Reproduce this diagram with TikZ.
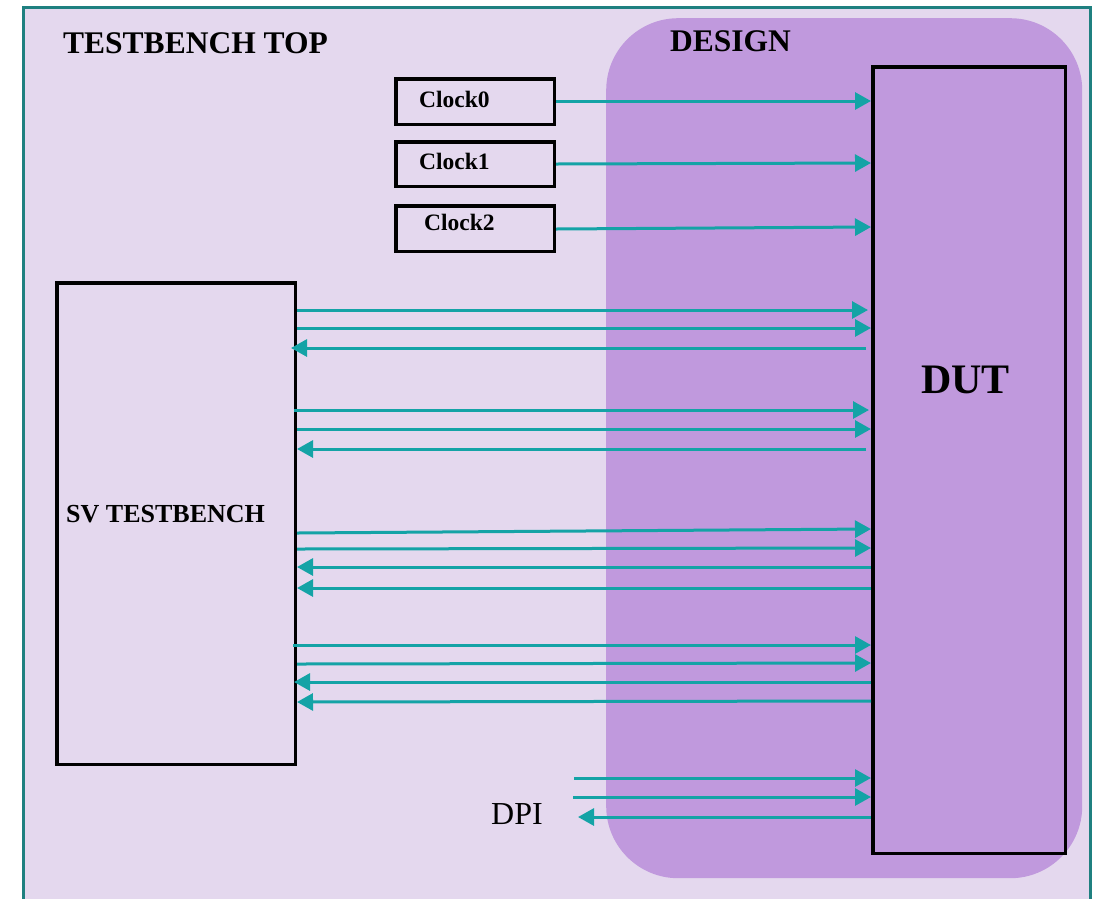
\documentclass[tikz,border=0pt]{standalone}
\usepackage{fontspec}
\setmainfont{Liberation Serif}
\usetikzlibrary{arrows.meta}
\definecolor{tbbg}{HTML}{E4D8EE}
\definecolor{dsgnfill}{HTML}{C099DD}
\definecolor{sigline}{HTML}{14A3A6}
\definecolor{frameline}{HTML}{1F8080}

\begin{document}
\begin{tikzpicture}[x=1pt,y=-1pt,
  blockbox/.style={draw=black, line width=3.5pt, inner sep=0pt, anchor=north west},
  sigarrow/.style={draw=sigline, line width=3pt,
    -{Triangle[length=16pt,width=17pt]}},
  title/.style={font=\bfseries\fontsize{31.5}{36}\selectfont, anchor=base west, inner sep=0pt},
  clocktext/.style={font=\bfseries\fontsize{23.5}{27}\selectfont, anchor=base west, inner sep=0pt}]

\useasboundingbox (0,0) rectangle (1099,898);
\fill[white] (0,0) rectangle (1099,898);
\clip (0,0) rectangle (1099,898);

% testbench top frame
\node[draw=frameline, fill=tbbg, line width=2.5pt, inner sep=0pt, anchor=north west,
      minimum width=1067pt, minimum height=910pt] (tbtop) at (22,6) {};
\node[title] (tbtitle) at (63,53) {TESTBENCH TOP};

% design region
\node[fill=dsgnfill, rounded corners=72pt, inner sep=0pt, anchor=north west,
      minimum width=476pt, minimum height=860pt] (design) at (606,18) {};
\node[title] (dsgntitle) at (670,51) {DESIGN};

% DUT
\node[blockbox, minimum width=192.5pt, minimum height=786.5pt] (dut) at (871,65) {};
\node[font=\bfseries\fontsize{42}{48}\selectfont, anchor=base west, inner sep=0pt] (duttext) at (921,393) {DUT};

% clock generators
\node[blockbox, minimum width=158.5pt, minimum height=45.5pt] (clk0) at (394,77) {};
\node[blockbox, minimum width=158.5pt, minimum height=44.5pt] (clk1) at (394,140) {};
\node[blockbox, minimum width=158.5pt, minimum height=45.5pt] (clk2) at (394,204) {};
\node[clocktext] (clk0text) at (419,107) {Clock0};
\node[clocktext] (clk1text) at (419,169) {Clock1};
\node[clocktext] (clk2text) at (424,230) {Clock2};

% SV testbench
\node[blockbox, minimum width=238.5pt, minimum height=481.5pt] (sv) at (55,281) {};
\node[font=\bfseries\fontsize{26}{30}\selectfont, anchor=base west, inner sep=0pt] (svtext) at (66,522) {SV TESTBENCH};

% clocks to DUT
\draw[sigarrow] (clk0.east |- 0,101) -- (dut.west |- 0,101);
\draw[sigarrow] (clk1.east |- 0,164) -- (dut.west |- 0,163);
\draw[sigarrow] (clk2.east |- 0,229) -- (dut.west |- 0,227);

% interface group 1
\draw[sigarrow] (sv.east |- 0,310) -- ([xshift=-3pt]dut.west |- 0,310);
\draw[sigarrow] (sv.east |- 0,328) -- (dut.west |- 0,328);
\draw[sigarrow] ([xshift=-5pt]dut.west |- 0,348) -- ([xshift=-6pt]sv.east |- 0,348);

% interface group 2
\draw[sigarrow] ([xshift=-3pt]sv.east |- 0,410) -- ([xshift=-2pt]dut.west |- 0,410);
\draw[sigarrow] (sv.east |- 0,429) -- (dut.west |- 0,429);
\draw[sigarrow] ([xshift=-5pt]dut.west |- 0,449) -- (sv.east |- 0,449);

% interface group 3
\draw[sigarrow] (sv.east |- 0,533) -- (dut.west |- 0,529);
\draw[sigarrow] (sv.east |- 0,549) -- (dut.west |- 0,548);
\draw[sigarrow] (dut.west |- 0,567) -- (sv.east |- 0,567);
\draw[sigarrow] (dut.west |- 0,588) -- (sv.east |- 0,588);

% interface group 4
\draw[sigarrow] ([xshift=-4pt]sv.east |- 0,645) -- (dut.west |- 0,645);
\draw[sigarrow] (sv.east |- 0,664) -- (dut.west |- 0,663);
\draw[sigarrow] (dut.west |- 0,682) -- ([xshift=-3pt]sv.east |- 0,682);
\draw[sigarrow] (dut.west |- 0,701) -- (sv.east |- 0,702);

% DPI
\node[font=\fontsize{32}{36}\selectfont, anchor=base west, inner sep=0pt] (dpi) at (491,824) {DPI};
\coordinate (dpiin1) at (574,778);
\coordinate (dpiin2) at (573,797);
\coordinate (dpiout) at (578,817);
\draw[sigarrow] (dpiin1) -- (dut.west |- dpiin1);
\draw[sigarrow] (dpiin2) -- (dut.west |- dpiin2);
\draw[sigarrow] (dut.west |- dpiout) -- (dpiout);

\end{tikzpicture}
\end{document}
